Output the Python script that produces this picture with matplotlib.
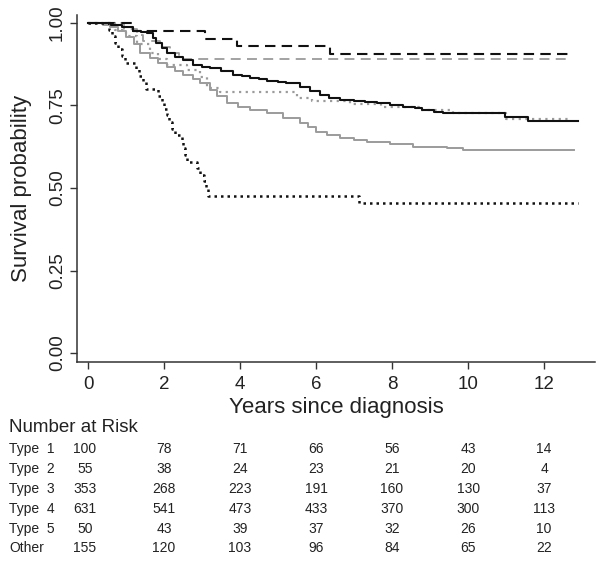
import matplotlib
matplotlib.use("Agg")
import matplotlib.pyplot as plt
from matplotlib.transforms import blended_transform_factory

plt.rcParams['font.family'] = ['Liberation Sans', 'DejaVu Sans']

# ---- survival curves (step functions) ----
bdash_t = [0, 1.18, 3.08, 3.92, 6.37, 12.7]
bdash_s = [1.0, 0.976, 0.952, 0.930, 0.905, 0.905]

gdash_t = [0, 0.95, 1.3, 1.45, 1.9, 2.15, 2.4, 12.6]
gdash_s = [1.0, 0.982, 0.964, 0.945, 0.927, 0.909, 0.891, 0.891]

bsolid_t = [0, 0.6, 0.9, 1.18, 1.4, 1.55, 1.7, 1.8, 1.95, 2.07, 2.3, 2.5, 2.77,
            3.0, 3.2, 3.5, 3.82, 4.05, 4.26, 4.5, 4.7, 5.0, 5.2, 5.58, 5.85,
            6.1, 6.35, 6.63, 7.0, 7.3, 7.6, 7.95, 8.3, 8.6, 8.8, 9.1, 9.34,
            10.97, 11.58, 12.9]
bsolid_s = [1.0, 0.995, 0.988, 0.977, 0.973, 0.968, 0.955, 0.94, 0.925, 0.909,
            0.898, 0.888, 0.873, 0.868, 0.863, 0.853, 0.842, 0.838, 0.833,
            0.829, 0.825, 0.821, 0.817, 0.806, 0.795, 0.782, 0.773, 0.767,
            0.764, 0.761, 0.757, 0.752, 0.746, 0.741, 0.736, 0.731, 0.727,
            0.716, 0.703, 0.703]

gsolid_t = [0, 0.4, 0.58, 0.8, 1.0, 1.2, 1.37, 1.63, 1.85, 2.07, 2.3, 2.5, 2.75,
            2.95, 3.2, 3.4, 3.66, 3.95, 4.26, 4.7, 5.13, 5.58, 5.8, 6.0, 6.3,
            6.63, 7.0, 7.34, 7.95, 8.55, 9.45, 9.87, 12.8]
gsolid_s = [1.0, 0.995, 0.988, 0.975, 0.958, 0.935, 0.909, 0.894, 0.88, 0.867,
            0.855, 0.842, 0.83, 0.818, 0.797, 0.778, 0.758, 0.745, 0.736, 0.727,
            0.712, 0.697, 0.685, 0.670, 0.66, 0.651, 0.645, 0.640, 0.633, 0.625,
            0.620, 0.615, 0.615]

gdot_t = [0, 0.7, 1.0, 1.3, 1.63, 1.85, 2.07, 2.6, 2.95, 3.13, 3.47, 5.5, 5.9,
          6.9, 7.7, 8.7, 9.6, 11.0, 12.7]
gdot_s = [1.0, 0.98, 0.96, 0.935, 0.909, 0.89, 0.873, 0.858, 0.836, 0.803, 0.79,
          0.772, 0.765, 0.755, 0.745, 0.736, 0.726, 0.708, 0.708]

bdot_t = [0, 0.55, 0.62, 0.72, 0.80, 0.90, 0.98, 1.25, 1.35, 1.45, 1.52, 1.85,
          1.94, 2.0, 2.07, 2.14, 2.22, 2.3, 2.47, 2.5, 2.54, 2.6, 2.88, 2.95,
          3.05, 3.1, 3.16, 7.13, 12.9]
bdot_s = [1.0, 0.98, 0.96, 0.94, 0.92, 0.90, 0.88, 0.86, 0.84, 0.82, 0.80, 0.78,
          0.76, 0.74, 0.72, 0.70, 0.68, 0.66, 0.64, 0.62, 0.60, 0.58, 0.56, 0.54,
          0.52, 0.50, 0.476, 0.455, 0.455]

# ---- risk table ----
risk_times = [0, 2, 4, 6, 8, 10, 12]
risk_groups = ["Type  1", "Type  2", "Type  3", "Type  4", "Type  5", "Other"]
risk_type1 = [100, 78, 71, 66, 56, 43, 14]
risk_type2 = [55, 38, 24, 23, 21, 20, 4]
risk_type3 = [353, 268, 223, 191, 160, 130, 37]
risk_type4 = [631, 541, 473, 433, 370, 300, 113]
risk_type5 = [50, 43, 39, 37, 32, 26, 10]
risk_other = [155, 120, 103, 96, 84, 65, 22]
risk_rows = [risk_type1, risk_type2, risk_type3, risk_type4, risk_type5, risk_other]

W, H = 600, 563
fig = plt.figure(figsize=(6, 5.63), dpi=100)
ax = fig.add_axes([77 / W, 1 - 362 / H, (595 - 77) / W, (362 - 15) / H])

gray = '#9b9b9b'
black = '#111111'
ax.plot(gdash_t, gdash_s, drawstyle='steps-post', color=gray, lw=1.3,
        linestyle=(0, (5.5, 3.5)))
ax.plot(bdash_t, bdash_s, drawstyle='steps-post', color=black, lw=1.5,
        linestyle=(0, (5, 3)))
ax.plot(gsolid_t, gsolid_s, drawstyle='steps-post', color=gray, lw=1.4)
ax.plot(gdot_t, gdot_s, drawstyle='steps-post', color=gray, lw=1.6,
        linestyle=(0, (1, 2)))
ax.plot(bsolid_t, bsolid_s, drawstyle='steps-post', color=black, lw=1.5)
ax.plot(bdot_t, bdot_s, drawstyle='steps-post', color=black, lw=1.8,
        linestyle=(0, (1, 1.6)))

ax.set_xlim(-0.29, 13.34)
ax.set_ylim(-0.027, 1.024)
ax.spines['top'].set_visible(False)
ax.spines['right'].set_visible(False)
for sp in ('left', 'bottom'):
    ax.spines[sp].set_color('#333333')
    ax.spines[sp].set_linewidth(1.1)

ax.set_xticks([0, 2, 4, 6, 8, 10, 12])
ax.set_yticks([0, 0.25, 0.5, 0.75, 1.0])
ax.set_yticklabels(["0.00", "0.25", "0.50", "0.75", "1.00"], rotation=90,
                   va='center')
ax.tick_params(axis='both', direction='out', length=5, width=1.0,
               color='#333333', labelsize=13.5, labelcolor='#222222')
ax.tick_params(axis='x', pad=5)
ax.tick_params(axis='y', pad=3)

fig.text(22 / W, 1 - 188 / H, "Survival probability", rotation=90,
         ha='center', va='center', fontsize=16, color='#222222')
fig.text(336 / W, 1 - 408 / H, "Years since diagnosis",
         ha='center', va='center', fontsize=16, color='#222222')

fig.text(9 / W, 1 - 427 / H, "Number at Risk", ha='left', va='center',
         fontsize=13.5, color='#222222')

trans = blended_transform_factory(ax.transData, fig.transFigure)
row_y = [449, 469, 489, 509, 529, 548]
for name, vals, yp in zip(risk_groups, risk_rows, row_y):
    fig.text(9 / W, 1 - yp / H, name, ha='left', va='center', fontsize=10,
             color='#222222')
    for t, v in zip(risk_times, vals):
        ax.text(t - 0.08 if t == 0 else t, 1 - yp / H, str(v), transform=trans,
                ha='center', va='center', fontsize=10, color='#222222')

fig.savefig("out.png", dpi=100)
